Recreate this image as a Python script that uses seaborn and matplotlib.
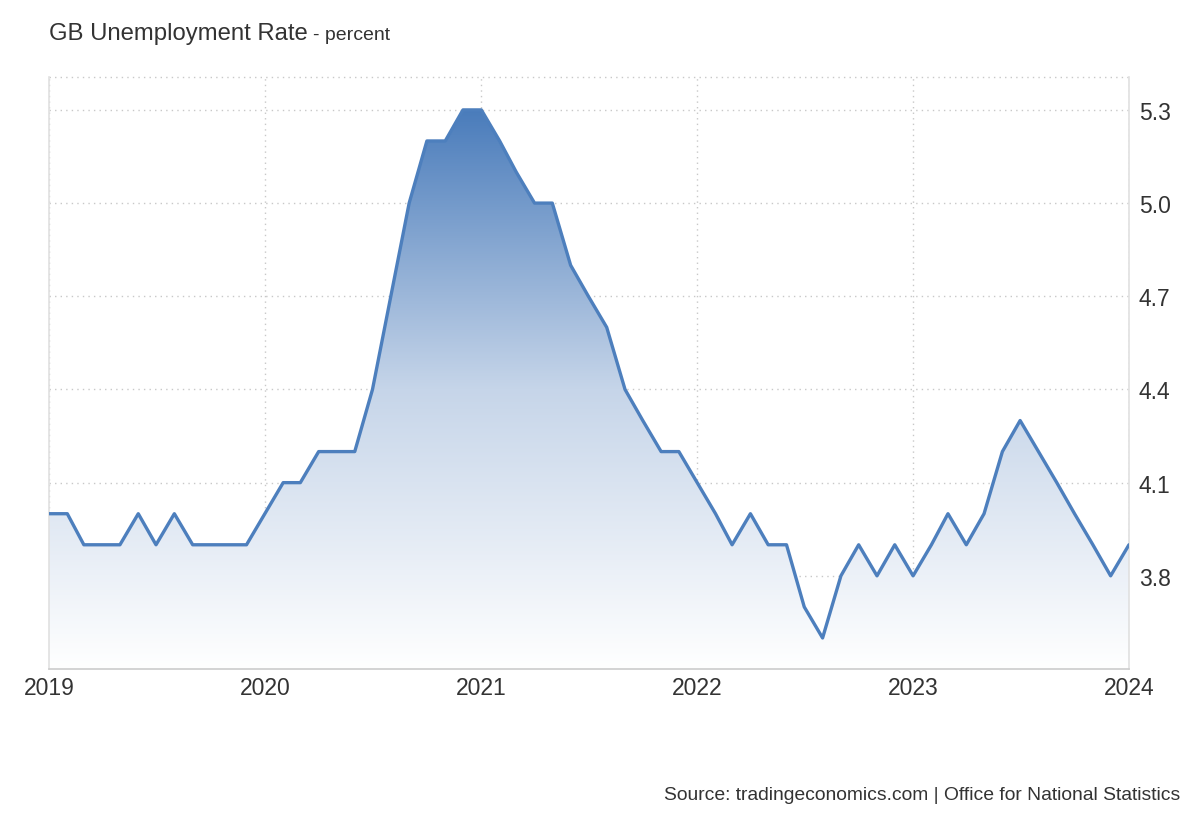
import numpy as np
import pandas as pd
import seaborn as sns
import matplotlib.pyplot as plt
import matplotlib.dates as mdates
from matplotlib.colors import LinearSegmentedColormap

# monthly GB unemployment rate, Jan 2019 .. Jan 2024
months = pd.date_range("2019-01-01", "2024-01-01", freq="MS")
rate = [4.0, 4.0, 3.9, 3.9, 3.9, 4.0, 3.9, 4.0, 3.9, 3.9, 3.9, 3.9,
        4.0, 4.1, 4.1, 4.2, 4.2, 4.2, 4.4, 4.7, 5.0, 5.2, 5.2, 5.3,
        5.3, 5.2, 5.1, 5.0, 5.0, 4.8, 4.7, 4.6, 4.4, 4.3, 4.2, 4.2,
        4.1, 4.0, 3.9, 4.0, 3.9, 3.9, 3.7, 3.6, 3.8, 3.9, 3.8, 3.9,
        3.8, 3.9, 4.0, 3.9, 4.0, 4.2, 4.3, 4.2, 4.1, 4.0, 3.9, 3.8,
        3.9]
yticks = [3.8, 4.1, 4.4, 4.7, 5.0, 5.3]
years = [2019, 2020, 2021, 2022, 2023, 2024]

df = pd.DataFrame({"date": months, "rate": rate})

sns.set_style("white")
plt.rcParams['font.family'] = ['Liberation Sans', 'DejaVu Sans']

line_col = "#4d7fbd"
fig = plt.figure(figsize=(12, 8.2), dpi=100)
ax = fig.add_axes([0.0408, 0.1829, 0.9, 0.722])

ymin, ymax = 3.5, 5.406
x0 = mdates.date2num(months[0])
x1 = mdates.date2num(months[-1])

# gradient fill under the line
poly = ax.fill_between(df["date"], df["rate"], ymin, color="none", lw=0)
cmap = LinearSegmentedColormap.from_list("g", ["#ffffff", "#c6d5e9", "#4a7cbb"])
grad = np.linspace(0, 1, 256).reshape(-1, 1)
im = ax.imshow(grad, cmap=cmap, aspect="auto", origin="lower",
               extent=[x0, x1, ymin, 5.3], zorder=1)
path = poly.get_paths()[0]
im.set_clip_path(path, transform=ax.transData)

sns.lineplot(data=df, x="date", y="rate", ax=ax, color=line_col, lw=2.4, zorder=3)

ax.set_xlim(x0, x1)
ax.set_ylim(ymin, ymax)
ax.set_xticks([mdates.date2num(pd.Timestamp(f"{y}-01-01")) for y in years])
ax.set_xticklabels([str(y) for y in years])
ax.set_yticks(yticks)
ax.set_yticklabels([f"{v:.1f}" for v in yticks])
ax.yaxis.tick_right()
ax.tick_params(axis="both", labelsize=16.5, colors="#333333", length=0)
ax.tick_params(axis="x", pad=5)
ax.tick_params(axis="y", pad=7)
ax.set_xlabel("")
ax.set_ylabel("")

ax.grid(True, linestyle=(0, (1, 3)), color="#c8c8c8", lw=1)
for s in ["left", "right"]:
    ax.spines[s].set_color("#e0e0e0")
    ax.spines[s].set_linewidth(1.2)
ax.spines["bottom"].set_color("#cccccc")
ax.spines["bottom"].set_linewidth(1.2)
ax.spines["top"].set_visible(False)
ax.axhline(ymax, linestyle=(0, (1, 3)), color="#c8c8c8", lw=1, clip_on=False)

fig.text(49 / 1200, 1 - 34 / 820, "GB Unemployment Rate", fontsize=17.2,
         color="#333333", va="center", ha="left")
fig.text(313 / 1200, 1 - 35 / 820, "- percent", fontsize=14,
         color="#333333", va="center", ha="left")
fig.text(1180 / 1200, 1 - 796 / 820,
         "Source: tradingeconomics.com | Office for National Statistics",
         fontsize=13.9, color="#333333", va="center", ha="right")

fig.savefig("out.png", dpi=100)
